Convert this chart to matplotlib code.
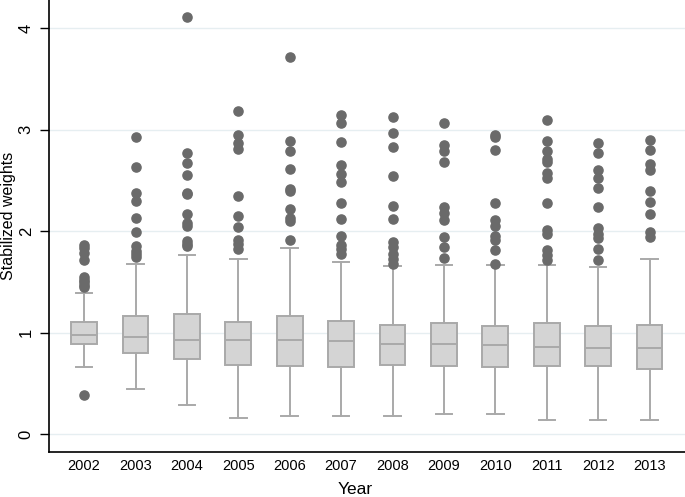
import matplotlib
matplotlib.use("Agg")
import matplotlib.pyplot as plt

years = [2002, 2003, 2004, 2005, 2006, 2007, 2008, 2009, 2010, 2011, 2012, 2013]

whisker_low = [0.66, 0.44, 0.29, 0.16, 0.18, 0.18, 0.18, 0.20, 0.20, 0.14, 0.14, 0.14]
q1 = [0.885, 0.80, 0.74, 0.685, 0.67, 0.665, 0.68, 0.675, 0.665, 0.67, 0.67, 0.64]
median = [0.975, 0.96, 0.925, 0.925, 0.925, 0.915, 0.89, 0.885, 0.88, 0.86, 0.85, 0.85]
q3 = [1.10, 1.165, 1.18, 1.105, 1.16, 1.11, 1.075, 1.09, 1.065, 1.095, 1.065, 1.08]
whisker_high = [1.395, 1.68, 1.765, 1.73, 1.835, 1.70, 1.655, 1.67, 1.67, 1.67, 1.645, 1.73]

outliers = [
    [1.86, 1.83, 1.79, 1.72, 1.55, 1.52, 1.50, 1.47, 1.45, 0.38],
    [2.93, 2.63, 2.38, 2.30, 2.13, 1.99, 1.85, 1.80, 1.78, 1.75],
    [4.11, 2.77, 2.67, 2.55, 2.38, 2.37, 2.17, 2.08, 2.05, 1.90, 1.87, 1.85],
    [3.19, 2.95, 2.87, 2.81, 2.35, 2.15, 2.04, 1.91, 1.87, 1.82],
    [3.72, 2.89, 2.79, 2.61, 2.42, 2.40, 2.22, 2.13, 2.10, 1.91],
    [3.15, 3.07, 2.88, 2.65, 2.56, 2.49, 2.28, 2.12, 1.95, 1.86, 1.82, 1.78],
    [3.13, 2.97, 2.83, 2.54, 2.25, 2.12, 1.89, 1.84, 1.78, 1.73, 1.68],
    [3.07, 2.85, 2.79, 2.68, 2.24, 2.18, 2.11, 1.94, 1.84, 1.74],
    [2.95, 2.93, 2.80, 2.28, 2.11, 2.05, 1.95, 1.91, 1.81, 1.68],
    [3.10, 2.89, 2.79, 2.71, 2.68, 2.57, 2.52, 2.28, 2.01, 1.97, 1.81, 1.77, 1.72],
    [2.87, 2.77, 2.60, 2.52, 2.43, 2.24, 2.03, 1.97, 1.93, 1.82, 1.72],
    [2.90, 2.80, 2.66, 2.60, 2.40, 2.29, 2.17, 1.99, 1.94],
]

box_face = "#d4d4d4"
box_edge = "#a9a9a9"
dot_color = "#6a6a6a"
grid_color = "#e6eef1"

plt.rcParams["font.family"] = ["Liberation Sans", "DejaVu Sans"]

stats = []
for i, yr in enumerate(years):
    stats.append({
        "whislo": whisker_low[i],
        "q1": q1[i],
        "med": median[i],
        "q3": q3[i],
        "whishi": whisker_high[i],
        "fliers": outliers[i],
        "label": str(yr),
    })

fig = plt.figure(figsize=(6.85, 4.97), dpi=100)
ax = fig.add_axes([0.071, 0.091, 0.929, 0.909])

for yv in [0, 1, 2, 3, 4]:
    ax.axhline(yv, color=grid_color, lw=1.0, zorder=0)

ax.bxp(
    stats,
    positions=years,
    widths=0.5,
    capwidths=0.32,
    patch_artist=True,
    boxprops=dict(facecolor=box_face, edgecolor=box_edge, linewidth=1.4),
    medianprops=dict(color=box_edge, linewidth=1.4),
    whiskerprops=dict(color=box_edge, linewidth=1.4),
    capprops=dict(color=box_edge, linewidth=1.4),
    flierprops=dict(marker="o", markersize=6.6, markerfacecolor=dot_color,
                    markeredgecolor=dot_color, linestyle="none"),
    zorder=2,
)

ax.set_xlim(years[0] - 0.69, years[-1] + 0.69)
ax.set_ylim(-0.175, 4.28)

ax.set_yticks([0, 1, 2, 3, 4])
ax.set_yticklabels(["0", "1", "2", "3", "4"], rotation=90, va="center", fontsize=12)
ax.set_xticks(years)
ax.set_xticklabels([str(y) for y in years], fontsize=10.5)
ax.tick_params(axis="x", length=0, pad=5)
ax.tick_params(axis="y", length=6.3, width=1, pad=4.5)

ax.spines["top"].set_visible(False)
ax.spines["right"].set_visible(False)
ax.spines["left"].set_linewidth(1.2)
ax.spines["bottom"].set_linewidth(1.2)

ax.set_xlabel("Year", fontsize=12.5, va="top")
ax.xaxis.set_label_coords(0.482, -0.068)
ax.set_ylabel("Stabilized weights", fontsize=11.5, va="bottom")
ax.yaxis.set_label_coords(-0.051, 0.522)

fig.savefig("out.png", dpi=100)
